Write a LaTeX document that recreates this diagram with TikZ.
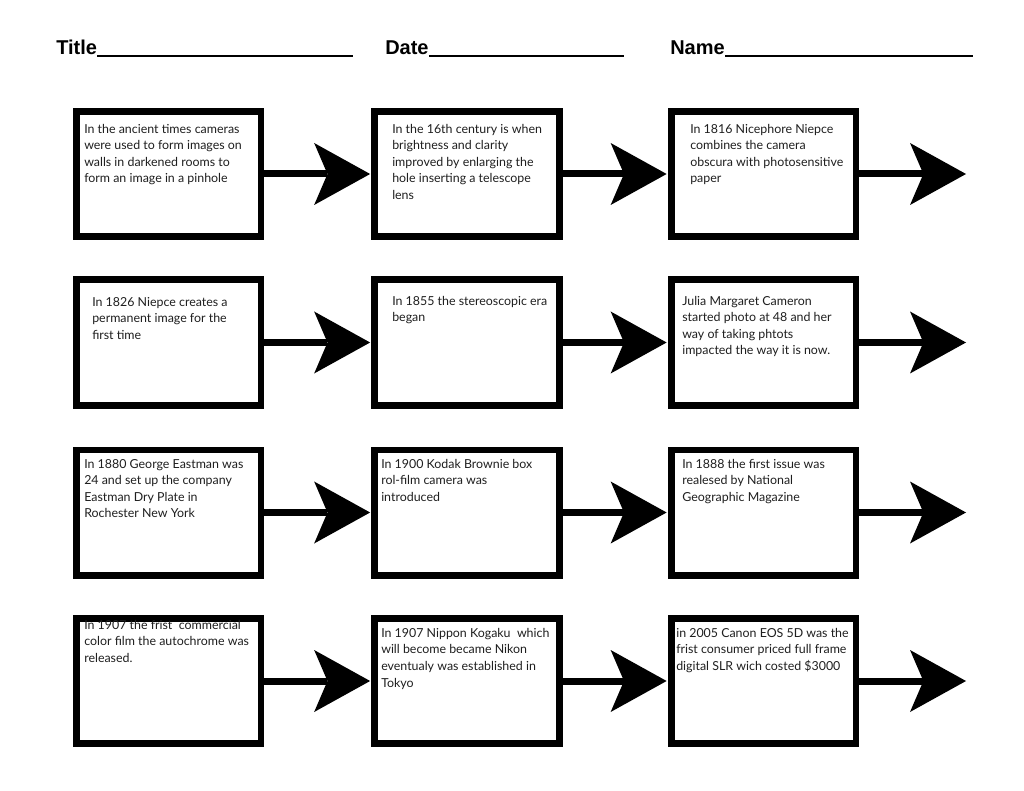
\documentclass[tikz,border=0pt]{standalone}
\usepackage{fontspec}
\setmainfont{Lato}
\newfontfamily\headfont{Liberation Sans}
\usetikzlibrary{arrows.meta}
\begin{document}
\begin{tikzpicture}[x=0.75pt,y=-0.75pt,
  evbox/.style={draw=black,line width=4.9pt,fill=white,minimum width=138.4pt,minimum height=94.1pt,inner sep=0pt},
  evtext/.style={anchor=north west,inner sep=0pt,align=left,text=black!88,font=\fontsize{9.3pt}{12.4pt}\selectfont},
  conn/.style={line width=5.25pt,-{Stealth[length=42pt,width=46.5pt,inset=10pt,line width=0pt]}},
  head/.style={anchor=base west,inner sep=0pt,font=\headfont\bfseries\fontsize{15pt}{18pt}\selectfont},
  rule/.style={line width=2.2pt}]
\useasboundingbox[fill=white] (0,0) rectangle (1024,791);
% header
\node[head] (title) at (56,55) {Title};
\node[head] (date) at (385,55) {Date};
\node[head] (name) at (670,55) {Name};
\coordinate (te) at (353,56);
\coordinate (de) at (624,56);
\coordinate (ne) at (973,56);
\draw[rule] (title.base east) ++(0,1) -- (te);
\draw[rule] (date.base east) ++(0,1) -- (de);
\draw[rule] (name.base east) ++(0,1) -- (ne);
% boxes
\foreach \r/\y in {1/174,2/342.5,3/512.5,4/681}{
  \node[evbox] (b\r1) at (168.5,\y) {};
  \node[evbox] (b\r2) at (467,\y) {};
  \node[evbox] (b\r3) at (763.5,\y) {};
  \coordinate (e\r) at (966,\y);
  \draw[conn,shorten >=1pt] (b\r1.east) -- (b\r2.west);
  \draw[conn,shorten >=1pt] (b\r2.east) -- (b\r3.west);
  \draw[conn] (b\r3.east) -- (e\r);
}
% texts
\node[evtext] (t11) at (84,124) {In the ancient times cameras\\were used to form images on\\walls in darkened rooms to\\form an image in a pinhole};
\node[evtext] (t12) at (392,124) {In the 16th century is when\\brightness and clarity\\improved by enlarging the\\hole inserting a telescope\\lens};
\node[evtext] (t13) at (690,124) {In 1816 Nicephore Niepce\\combines the camera\\obscura with photosensitive\\paper};
\node[evtext] (t21) at (92,297) {In 1826 Niepce creates a\\permanent image for the\\first time};
\node[evtext] (t22) at (392,296) {In 1855 the stereoscopic era\\began};
\node[evtext] (t23) at (682,296) {Julia Margaret Cameron\\started photo at 48 and her\\way of taking phtots\\impacted the way it is now.};
\node[evtext] (t31) at (84,459) {In 1880 George Eastman was\\24 and set up the company\\Eastman Dry Plate in\\Rochester New York};
\node[evtext] (t32) at (381,459) {In 1900 Kodak Brownie box\\rol-film camera was\\introduced};
\node[evtext] (t33) at (682,459) {In 1888 the first issue was\\realesed by National\\Geographic Magazine};
\node[evtext] (t41) at (84,620) {In 1907 the frist\ \ commercial\\color film the autochrome was\\released.};
\node[evtext] (t42) at (381,628) {In 1907 Nippon Kogaku\ \ which\\will become became Nikon\\eventualy was established in\\Tokyo};
\node[evtext] (t43) at (676,628) {in 2005 Canon EOS 5D was the\\frist consumer priced full frame\\digital SLR wich costed \$3000};
\end{tikzpicture}
\end{document}
